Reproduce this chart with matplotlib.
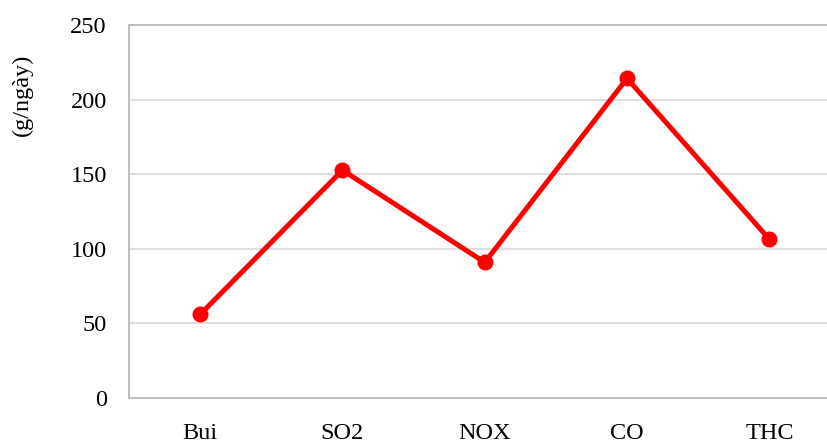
import matplotlib
matplotlib.use("Agg")
import matplotlib.pyplot as plt

categories = ["Bui", "SO2", "NOX", "CO", "THC"]
values = [56.0, 152.7, 90.9, 214.2, 106.4]
y_ticks = [0, 50, 100, 150, 200, 250]
y_label = "(g/ngày)"

plt.rcParams["font.family"] = ["Liberation Serif", "DejaVu Serif"]

fig = plt.figure(figsize=(8.28, 4.45), dpi=100)
ax = fig.add_axes([129 / 828, 47 / 445, 711.5 / 828, 373 / 445])

x = list(range(len(categories)))
ax.plot(x, values, color="#ff0000", linewidth=3.6, marker="o",
        markersize=10.5, solid_capstyle="round", zorder=3, clip_on=False)

ax.set_xlim(-0.5, len(categories) - 0.5)
ax.set_ylim(0, 250)
ax.set_yticks(y_ticks)
ax.set_xticks(x)
ax.set_xticklabels(categories)

ax.grid(axis="y", color="#d9d9d9", linewidth=1.2)
ax.set_axisbelow(True)
for side in ("left", "bottom", "top"):
    ax.spines[side].set_color("#bfbfbf")
    ax.spines[side].set_linewidth(1.5)
ax.spines["right"].set_visible(False)

ax.tick_params(axis="both", length=0, labelsize=17.5, colors="black")
ax.tick_params(axis="y", pad=16)
ax.tick_params(axis="x", pad=18)

fig.text(22 / 828, 1 - 95 / 445, y_label, rotation=90, ha="center",
         va="center", fontsize=17.5)

fig.savefig("out.png", dpi=100)
